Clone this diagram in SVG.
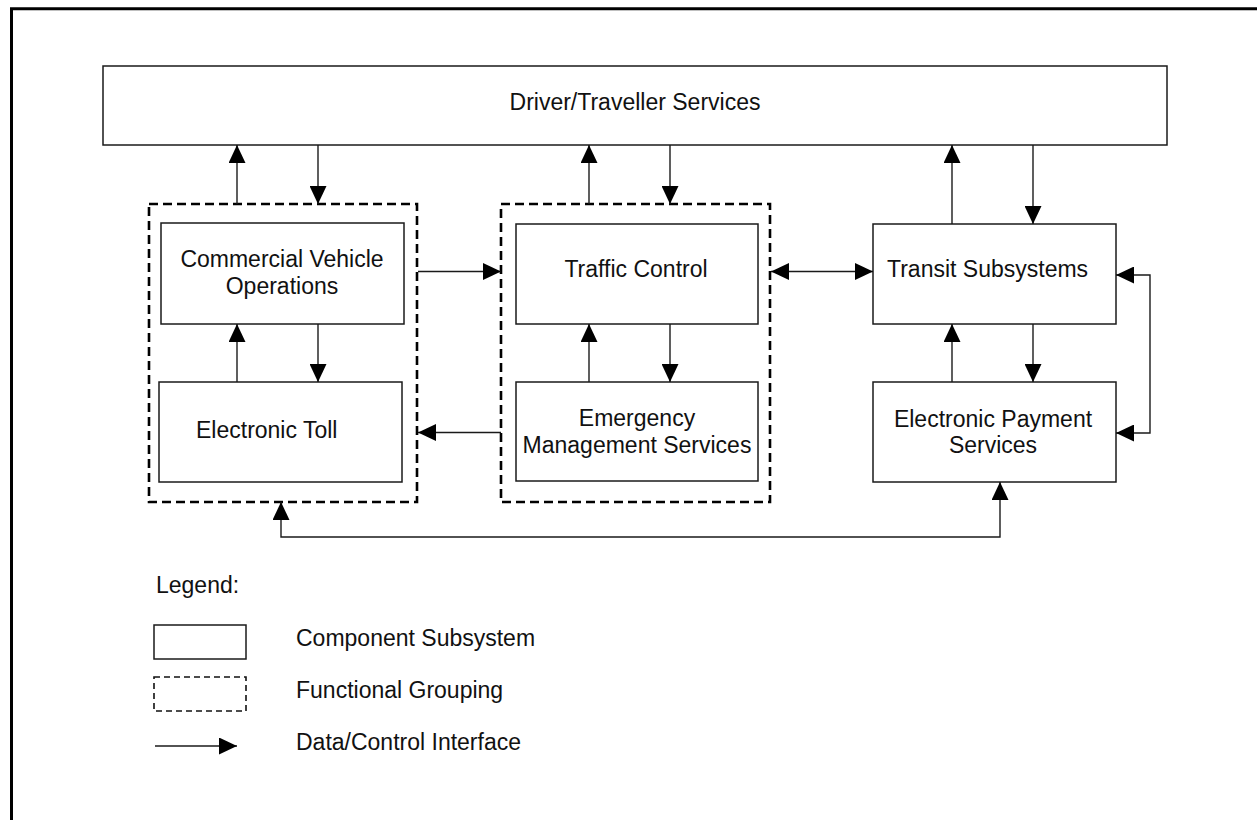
<svg xmlns="http://www.w3.org/2000/svg" width="1257" height="820" viewBox="0 0 1257 820">
  <style>
    .box { fill: #fff; stroke: #1a1a1a; stroke-width: 1.5; }
    .group { fill: none; stroke: #000; stroke-width: 2.6; stroke-dasharray: 9 5; }
    .link { fill: none; stroke: #1a1a1a; stroke-width: 1.4; }
    .lbl { font-family: "Liberation Sans", Arial, sans-serif; font-size: 23px; fill: #111; }
    .mid { text-anchor: middle; }
  </style>
  <defs>
    <marker id="head" markerUnits="userSpaceOnUse" markerWidth="18" markerHeight="17" refX="18" refY="8.5" orient="auto-start-reverse" viewBox="0 0 18 17">
      <path d="M0,0 L18,8.5 L0,17 z" fill="#000"/>
    </marker>
  </defs>

  <rect width="1257" height="820" fill="#fff"/>

  <!-- page frame -->
  <path d="M11.5,820 V8.7 H1257" fill="none" stroke="#000" stroke-width="3"/>

  <!-- functional groupings -->
  <g id="group-cvo-toll">
    <rect class="group" x="149" y="204" width="268" height="298"/>
  </g>
  <g id="group-traffic-ems">
    <rect class="group" x="501" y="204" width="269" height="298"/>
  </g>

  <!-- component subsystems -->
  <g id="driver-traveller">
    <rect class="box" x="103" y="66" width="1064" height="79"/>
    <text class="lbl mid" x="635" y="110">Driver/Traveller Services</text>
  </g>
  <g id="commercial-vehicle">
    <rect class="box" x="161" y="223" width="243" height="101"/>
    <text class="lbl mid" x="282" y="267">Commercial Vehicle</text>
    <text class="lbl mid" x="282" y="294">Operations</text>
  </g>
  <g id="electronic-toll">
    <rect class="box" x="159" y="382" width="243" height="100"/>
    <text class="lbl" x="196" y="438">Electronic Toll</text>
  </g>
  <g id="traffic-control">
    <rect class="box" x="516" y="224" width="242" height="100"/>
    <text class="lbl mid" x="636" y="277">Traffic Control</text>
  </g>
  <g id="emergency-management">
    <rect class="box" x="516" y="382" width="242" height="99"/>
    <text class="lbl mid" x="637" y="426">Emergency</text>
    <text class="lbl mid" x="637" y="453">Management Services</text>
  </g>
  <g id="transit">
    <rect class="box" x="873" y="224" width="243" height="100"/>
    <text class="lbl" x="887" y="277">Transit Subsystems</text>
  </g>
  <g id="electronic-payment">
    <rect class="box" x="873" y="382" width="243" height="100"/>
    <text class="lbl mid" x="993" y="427">Electronic Payment</text>
    <text class="lbl mid" x="993" y="453">Services</text>
  </g>

  <!-- data/control interfaces -->
  <g id="connectors">
    <path class="link" d="M237,204 V145" marker-end="url(#head)"/>
    <path class="link" d="M318,145 V204" marker-end="url(#head)"/>
    <path class="link" d="M589,204 V145" marker-end="url(#head)"/>
    <path class="link" d="M670,145 V204" marker-end="url(#head)"/>
    <path class="link" d="M952,224 V145" marker-end="url(#head)"/>
    <path class="link" d="M1033,145 V224" marker-end="url(#head)"/>

    <path class="link" d="M418,271.5 H501" marker-end="url(#head)"/>
    <path class="link" d="M501,432.5 H418" marker-end="url(#head)"/>
    <path class="link" d="M771,271.5 H873" marker-start="url(#head)" marker-end="url(#head)"/>

    <path class="link" d="M237,382 V324" marker-end="url(#head)"/>
    <path class="link" d="M318,324 V382" marker-end="url(#head)"/>
    <path class="link" d="M589,382 V324" marker-end="url(#head)"/>
    <path class="link" d="M670,324 V382" marker-end="url(#head)"/>
    <path class="link" d="M952,382 V324" marker-end="url(#head)"/>
    <path class="link" d="M1033,324 V382" marker-end="url(#head)"/>

    <path class="link" d="M1116,275 H1150 V433 H1116" marker-start="url(#head)" marker-end="url(#head)"/>
    <path class="link" d="M281,502 V537 H1000 V482" marker-start="url(#head)" marker-end="url(#head)"/>
  </g>

  <!-- legend -->
  <g id="legend">
    <text class="lbl" x="156" y="593">Legend:</text>
    <rect class="box" x="154" y="625" width="92" height="34"/>
    <rect x="154" y="677" width="92" height="34" fill="none" stroke="#111" stroke-width="1.6" stroke-dasharray="6 4"/>
    <path class="link" d="M155,746 H237" marker-end="url(#head)"/>
    <text class="lbl" x="296" y="646">Component Subsystem</text>
    <text class="lbl" x="296" y="698">Functional Grouping</text>
    <text class="lbl" x="296" y="750">Data/Control Interface</text>
  </g>
</svg>
